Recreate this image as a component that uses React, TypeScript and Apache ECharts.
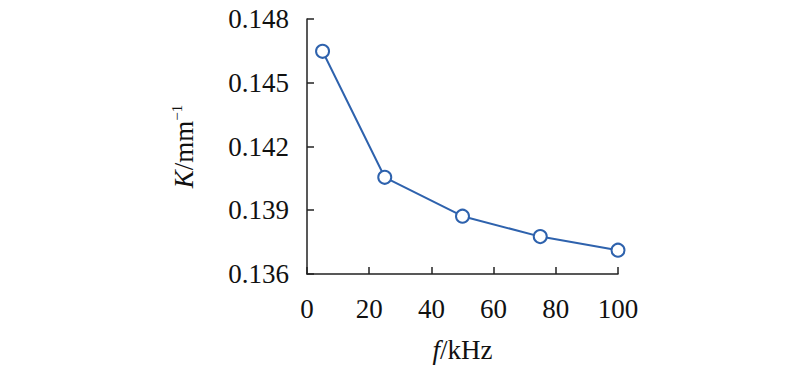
import React, { useEffect, useRef } from "react";
import * as echarts from "echarts";

const frequencies = [5, 25, 50, 75, 100];
const kValues = [0.14648, 0.14055, 0.13872, 0.13776, 0.13712];
const yTicks = [0.136, 0.139, 0.142, 0.145, 0.148];
const xTicks = [0, 20, 40, 60, 80, 100];

const FONT = "'Liberation Serif', 'Times New Roman', serif";

export default function App() {
  const ref = useRef<HTMLDivElement>(null);
  useEffect(() => {
    if (!ref.current) return;
    const chart = echarts.init(ref.current, null, { renderer: "svg" });
    chart.setOption({
      animation: false,
      grid: { left: 307, right: 182, top: 19, bottom: 91, containLabel: false },
      xAxis: {
        type: "value",
        min: xTicks[0],
        max: xTicks[xTicks.length - 1],
        interval: 20,
        name: "{i|f}/kHz",
        nameLocation: "middle",
        nameGap: 62,
        nameTextStyle: {
          fontFamily: FONT,
          fontSize: 27,
          color: "#111",
          rich: {
            i: { fontFamily: FONT, fontSize: 27, fontStyle: "italic", color: "#111" },
          },
        },
        axisLine: { show: true, lineStyle: { color: "#222", width: 1.5 } },
        axisTick: { show: true, inside: true, length: 7, lineStyle: { color: "#222", width: 1.5 } },
        axisLabel: { fontFamily: FONT, fontSize: 27, color: "#111", margin: 21 },
        splitLine: { show: false },
      },
      yAxis: {
        type: "value",
        min: yTicks[0],
        max: yTicks[yTicks.length - 1],
        name: "{i|K}/mm{s|−1}",
        nameLocation: "middle",
        nameRotate: 90,
        nameGap: 108,
        nameTextStyle: {
          fontFamily: FONT,
          fontSize: 27,
          color: "#111",
          lineHeight: 30,
          rich: {
            i: { fontFamily: FONT, fontSize: 27, fontStyle: "italic", color: "#111", lineHeight: 30 },
            s: { fontFamily: FONT, fontSize: 15, color: "#111", verticalAlign: "top", lineHeight: 18 },
          },
        },
        axisLine: { show: true, lineStyle: { color: "#222", width: 1.5 } },
        axisTick: { show: true, inside: true, length: 7, customValues: yTicks, lineStyle: { color: "#222", width: 1.5 } },
        axisLabel: {
          fontFamily: FONT,
          fontSize: 27,
          color: "#111",
          margin: 18,
          customValues: yTicks,
          formatter: (v: number) => v.toFixed(3),
        },
        splitLine: { show: false },
      },
      series: [
        {
          type: "line",
          data: frequencies.map((f, i) => [f, kValues[i]]),
          symbol: "emptyCircle",
          symbolSize: 13,
          itemStyle: { color: "#2e62ad", borderWidth: 2, borderColor: "#2e62ad" },
          lineStyle: { color: "#2e62ad", width: 2 },
        },
      ],
    });
    return () => chart.dispose();
  }, []);
  return <div ref={ref} style={{ width: 800, height: 368, position: "absolute", left: 0, top: 0 }} />;
}
